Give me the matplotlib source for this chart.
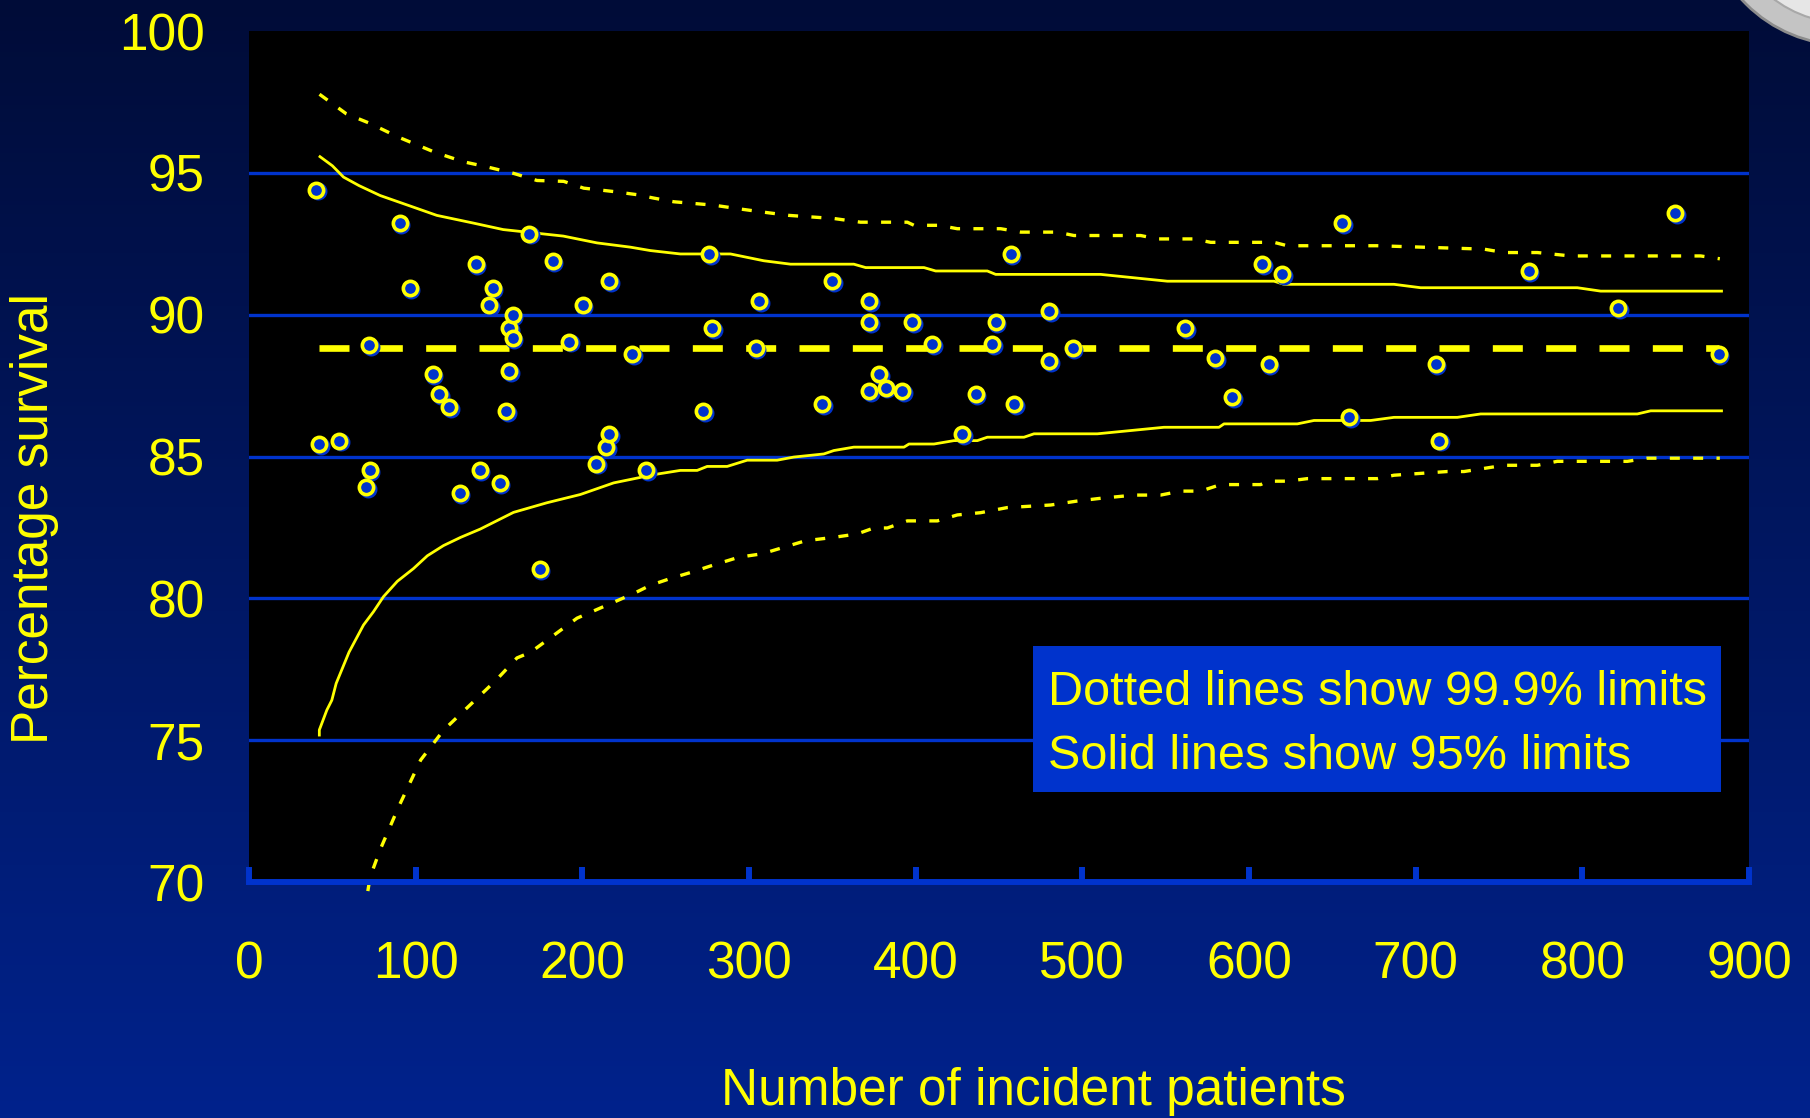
import numpy as np
import matplotlib
matplotlib.use("Agg")
import matplotlib.pyplot as plt
import matplotlib.transforms as mtransforms
from matplotlib.patches import Rectangle, Ellipse

plt.rcParams['font.family'] = ['Liberation Sans', 'DejaVu Sans']

# hospital points: (number of incident patients, % survival)
patients = [40.2, 42.2, 54.2, 70.3, 72.3, 72.1, 90.3, 96.3, 110.1, 114.1,
            120.1, 126.3, 135.9, 138.3, 144.1, 146.1, 150.3, 154.2, 156.2, 156.2,
            158.2, 158.2, 168.2, 174.4, 182.2, 192.2, 200.2, 208.2, 214.2, 216.2,
            216.2, 229.8, 238.3, 272.3, 275.9, 277.9, 303.9, 305.9, 344.0, 350.0,
            372.0, 372.0, 372.0, 378.0, 382.0, 392.0, 398.0, 410.0, 428.0, 436.0,
            446.0, 448.0, 457.0, 459.0, 480.0, 480.0, 494.1, 561.8, 579.8, 589.8,
            607.8, 611.8, 619.8, 655.9, 659.9, 711.9, 713.9, 767.8, 821.6, 855.7,
            881.7]
survival = [94.41, 85.44, 85.56, 83.93, 84.51, 88.92, 93.22, 90.95, 87.90, 87.20,
            86.73, 83.71, 91.78, 84.51, 90.35, 90.95, 84.05, 86.61, 88.02, 89.52,
            89.99, 89.17, 92.86, 81.03, 91.90, 89.05, 90.35, 84.75, 85.33, 85.80,
            91.18, 88.60, 84.51, 86.61, 92.14, 89.52, 88.83, 90.47, 86.84, 91.18,
            90.47, 89.75, 87.31, 87.90, 87.43, 87.31, 89.75, 88.95, 85.80, 87.20,
            88.95, 89.75, 92.14, 86.84, 90.13, 88.36, 88.83, 89.52, 88.48, 87.08,
            91.78, 88.25, 91.42, 93.22, 86.38, 88.25, 85.56, 91.54, 90.23, 93.58,
            88.60]

mean_x = [42, 882]
mean_y = [88.83, 88.83]

# 95% limits (solid)
up95_x = [42.6, 50.0, 56.7, 66.0, 78.7, 96.7, 112.7, 134.5, 152.5, 188.6, 208.8, 228.8,
          240.8, 258.8, 288.9, 298.9, 308.9, 324.9, 362.9, 370, 405, 412,
          443, 448, 511, 551, 615, 621, 687, 703, 797, 811, 883.5]
up95_y = [95.57, 95.25, 94.85, 94.55, 94.2, 93.83, 93.5, 93.23, 93.0, 92.77, 92.53, 92.38,
          92.26, 92.14, 92.14, 92.02, 91.9, 91.78, 91.78, 91.66, 91.66, 91.54,
          91.54, 91.42, 91.42, 91.18, 91.18, 91.07, 91.07, 90.95, 90.95, 90.83, 90.83]
lo95_x = [42.2, 42.2, 46.7, 49.7, 52.3, 60.0, 68.7, 74.7, 80.7, 89.0, 98.7, 107.0, 116.7,
          127.0, 138.7, 158.7, 178.8, 198.8, 218.8, 228.8, 242.8, 258.8, 268.9, 274.9,
          286.9, 298.9, 316.9, 326.9, 344.9, 350.9, 362.9, 393, 396, 411,
          423, 437, 443, 465, 471, 509, 549, 582, 585, 629,
          639, 673, 687, 725, 739, 833, 841, 883.5]
lo95_y = [75.18, 75.36, 76.06, 76.41, 77.0, 78.1, 79.06, 79.53, 80.06, 80.6, 81.05, 81.5, 81.86,
          82.15, 82.44, 83.03, 83.37, 83.66, 84.07, 84.19, 84.36, 84.51, 84.51, 84.65,
          84.65, 84.87, 84.87, 84.98, 85.09, 85.21, 85.33, 85.33, 85.44, 85.44,
          85.56, 85.56, 85.68, 85.68, 85.8, 85.8, 86.03, 86.03, 86.15, 86.15,
          86.27, 86.27, 86.38, 86.38, 86.5, 86.5, 86.61, 86.61]

# 99.9% limits (dotted)
up999_x = [42.3, 58.4, 72.3, 89.6, 111.7, 128.7, 142.8, 158.8, 172.8, 188.8,
           200.8, 218.8, 232.8, 242.8, 254.9, 278.9, 292.9, 307.9, 323.9, 350.9,
           366.9, 395, 399, 414, 425, 451, 463, 485, 495, 535,
           545, 567, 577, 615, 623, 677, 741, 753, 773, 793, 871, 882.5]
up999_y = [97.77, 97.08, 96.75, 96.26, 95.72, 95.39, 95.21, 94.98, 94.73, 94.70,
           94.46, 94.34, 94.23, 94.11, 93.98, 93.86, 93.74, 93.62, 93.5, 93.39,
           93.26, 93.26, 93.15, 93.15, 93.03, 93.03, 92.91, 92.91, 92.79, 92.79,
           92.67, 92.67, 92.55, 92.55, 92.43, 92.43, 92.31, 92.19, 92.19, 92.07, 92.07, 91.97]
lo999_x = [71.3, 72.7, 78.7, 89.7, 103, 116.7, 148, 160.8, 169, 196.8,
           230.8, 240.8, 252.9, 264.9, 276.9, 293.9, 307.9, 320.9, 333.9, 350.9,
           364.9, 374.9, 383, 395, 413, 425, 439, 455, 481, 497,
           510, 531, 547, 559, 571, 583, 607, 611, 623, 635,
           677, 687, 719, 729, 741, 753, 773, 785, 827, 839, 882.5]
lo999_y = [69.68, 70.18, 71.14, 72.64, 74.3, 75.35, 77.1, 77.9, 78.1, 79.3,
           80.17, 80.46, 80.7, 80.91, 81.14, 81.45, 81.57, 81.8, 82.03, 82.15,
           82.27, 82.48, 82.48, 82.73, 82.73, 82.94, 83.02, 83.2, 83.29, 83.43,
           83.52, 83.64, 83.64, 83.78, 83.78, 84.01, 84.01, 84.13, 84.13, 84.22,
           84.22, 84.34, 84.47, 84.47, 84.58, 84.69, 84.69, 84.83, 84.83, 84.94, 84.94]

YELLOW = '#ffff00'
BLUE = '#0033cc'
W, H = 1810, 1118

fig = plt.figure(figsize=(W / 100, H / 100), dpi=100)

# slide background gradient
bg = fig.add_axes([0, 0, 1, 1], zorder=-10)
grad = np.linspace(0, 1, 256).reshape(-1, 1)
top = np.array([0, 12, 56]) / 255
bot = np.array([0, 34, 140]) / 255
img = top + (bot - top) * grad[:, :, None]
bg.imshow(img, aspect='auto', extent=[0, 1, 0, 1], origin='upper')
bg.set_xlim(0, 1)
bg.set_ylim(0, 1)
bg.axis('off')

# logo corner (partial seal), sizes in pixels
cx, cy = 1845 / W, 1 + 95 / H
bg.add_patch(Ellipse((cx, cy), 2 * 140 / W, 2 * 140 / H, transform=fig.transFigure,
                     facecolor='#c4c4c4', edgecolor='#8c8c8c', lw=2, clip_on=False))
bg.add_patch(Ellipse((cx, cy), 2 * 118 / W, 2 * 118 / H, transform=fig.transFigure,
                     facecolor='#e6e6e6', edgecolor='#a8a8a8', lw=1.5, clip_on=False))

ax = fig.add_axes([249 / W, 1 - 882 / H, 1500 / W, 851 / H])
ax.set_facecolor('black')
ax.set_xlim(0, 900)
ax.set_ylim(70, 100)

for v in [75, 80, 85, 90, 95]:
    ax.axhline(v, color=BLUE, lw=2.4, zorder=1)

ax.plot(up999_x, up999_y, color=YELLOW, lw=2.4, dashes=(3, 4), zorder=2)
ax.plot(lo999_x, lo999_y, color=YELLOW, lw=2.4, dashes=(3, 4), zorder=2, clip_on=False)
ax.plot(up95_x, up95_y, color=YELLOW, lw=2.0, zorder=2)
ax.plot(lo95_x, lo95_y, color=YELLOW, lw=2.0, zorder=2)
ax.plot(mean_x, mean_y, color=YELLOW, lw=4.8, dashes=(4.5, 3.5), zorder=3)

shadow = mtransforms.offset_copy(ax.transData, fig=fig, x=1.3, y=-1.3, units='points')
ax.plot(patients, survival, 'o', ms=10.3, mew=2.6, mfc=BLUE, mec=BLUE,
        transform=shadow, zorder=4)
ax.plot(patients, survival, 'o', ms=10.3, mew=2.6, mfc=BLUE, mec=YELLOW, zorder=5)

for s in ['left', 'top', 'right']:
    ax.spines[s].set_visible(False)
ax.spines['bottom'].set_color(BLUE)
ax.spines['bottom'].set_linewidth(4.3)
ax.spines['bottom'].set_zorder(6)

ax.set_xticks(range(0, 901, 100))
ax.set_yticks(range(70, 101, 5))
ax.tick_params(axis='x', direction='in', length=11, width=4.3, color=BLUE,
               labelcolor=YELLOW, labelsize=37, pad=42)
ax.tick_params(axis='y', length=0, labelcolor=YELLOW, labelsize=37, pad=32)

fig.text(1033 / W, 1 - 1091 / H, 'Number of incident patients', color=YELLOW,
         fontsize=37, ha='center', va='center')
fig.text(35 / W, 1 - 518 / H, 'Percentage survival', color=YELLOW,
         fontsize=37, ha='center', va='center', rotation=90)

# key box
fig.patches.append(Rectangle((1033 / W, 1 - 792 / H), 688 / W, 146 / H,
                             transform=fig.transFigure, facecolor=BLUE,
                             edgecolor='none', zorder=10))
fig.text(1048 / W, 1 - 705 / H, 'Dotted lines show 99.9% limits', color=YELLOW,
         fontsize=35, ha='left', va='baseline', zorder=11)
fig.text(1048 / W, 1 - 769 / H, 'Solid lines show 95% limits', color=YELLOW,
         fontsize=35, ha='left', va='baseline', zorder=11)

fig.savefig('out.png', dpi=100, facecolor=fig.get_facecolor())
